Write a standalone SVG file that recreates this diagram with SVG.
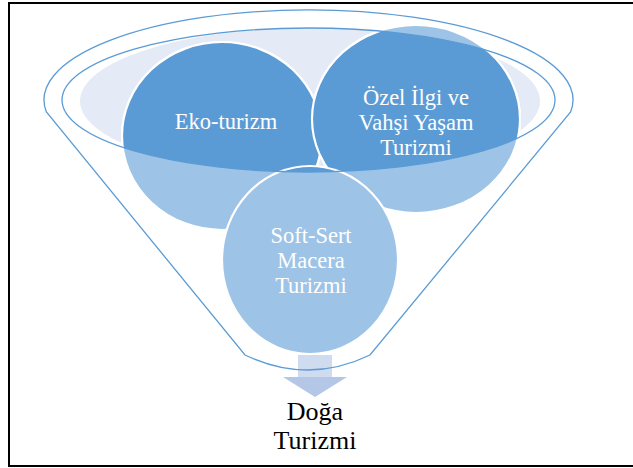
<svg xmlns="http://www.w3.org/2000/svg" width="633" height="468" viewBox="0 0 633 468">
<defs>
<style>
.ln{fill:none;stroke:#5B9BD5;stroke-width:1.3}
.cl{fill:#9DC3E6;stroke:#fff;stroke-width:2.2}
.cd{fill:#5B9BD5;stroke:#fff;stroke-width:2.2}
.wt{font-family:'Liberation Serif','Times New Roman',serif;font-size:22.5px;fill:#fff;text-anchor:middle}
.bt{font-family:'Liberation Serif','Times New Roman',serif;font-size:26px;fill:#000;text-anchor:middle}
</style>
<linearGradient id="band" x1="0" y1="10" x2="0" y2="70" gradientUnits="userSpaceOnUse">
<stop offset="0" stop-color="#EBF0F8"/>
<stop offset="1" stop-color="#FFFFFF"/>
</linearGradient>
<clipPath id="rim"><ellipse cx="308.5" cy="100" rx="246.5" ry="72"/></clipPath>
</defs>
<rect width="633" height="468" fill="#fff"/>
<rect x="9" y="3" width="640" height="463" fill="none" stroke="#000" stroke-width="2"/>
<g id="funnel">
<path d="M46.4,112 A264.5,90 0 0 1 570.6,112 L370,355 Q308,385 245,355 Z" fill="url(#band)" stroke="none"/>
<ellipse cx="308.5" cy="100" rx="246.5" ry="72" fill="#fff"/>
<ellipse cx="310" cy="101" rx="230" ry="73" fill="#E4EBF6"/>
</g>
<g id="arrow">
<rect x="298" y="355" width="34" height="23" fill="#CFDCF0"/>
<polygon points="283,377 347,377 315,397" fill="#B4C7E7"/>
</g>
<g id="circles-light">
<ellipse cx="222" cy="136" rx="100" ry="94" class="cl"/>
<ellipse cx="416" cy="119" rx="104" ry="94" class="cl"/>
<ellipse cx="310" cy="260" rx="88" ry="94" class="cl"/>
</g>
<g id="circles-dark" clip-path="url(#rim)">
<ellipse cx="222" cy="136" rx="100" ry="94" class="cd"/>
<ellipse cx="416" cy="119" rx="104" ry="94" class="cd"/>
<ellipse cx="310" cy="260" rx="88" ry="94" class="cd"/>
</g>
<g id="connectors">
<path class="ln" d="M46.4,112 A264.5,90 0 1 1 570.6,112 L370,355 Q308,385 245,355 Z"/>
<ellipse class="ln" cx="308.5" cy="100" rx="246.5" ry="72"/>
</g>
<g id="node-eko"><text class="wt" x="226" y="129">Eko-turizm</text></g>
<g id="node-ozel">
<text class="wt" x="416" y="105">Özel İlgi ve</text>
<text class="wt" x="416" y="130">Vahşi Yaşam</text>
<text class="wt" x="416" y="155">Turizmi</text>
</g>
<g id="node-soft">
<text class="wt" x="311" y="243">Soft-Sert</text>
<text class="wt" x="311" y="268">Macera</text>
<text class="wt" x="311" y="293">Turizmi</text>
</g>
<g id="node-doga">
<text class="bt" x="315" y="420">Doğa</text>
<text class="bt" x="315" y="449">Turizmi</text>
</g>
</svg>
